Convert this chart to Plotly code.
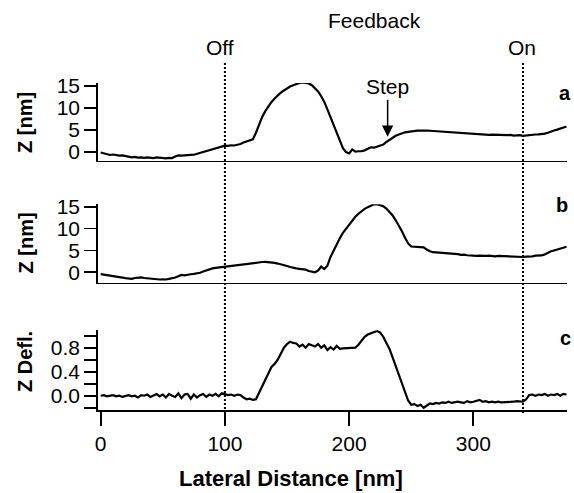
import numpy as np
import plotly.graph_objects as go

# Lateral distance samples [nm]
x_nm = [2.5 * i for i in range(151)]

# Panel a: Z [nm]
z_a = [
    -0.2, -0.35, -0.5, -0.75, -0.65, -0.8, -0.9, -0.85, -1.0, -1.05,
    -1.3, -1.2, -1.35, -1.3, -1.4, -1.3, -1.35, -1.45, -1.3, -1.4,
    -1.35, -1.5, -1.4, -1.45, -1.1, -0.85, -0.9, -0.8, -0.85, -0.75,
    -0.7, -0.5, -0.3, -0.1, 0.15, 0.35, 0.55, 0.75, 0.95, 1.2,
    1.35, 1.3, 1.45, 1.4, 1.5, 1.75, 2.1, 2.35, 2.5, 2.8,
    4.3, 6.2, 7.9, 9.2, 10.4, 11.3, 12.1, 12.8, 13.4, 13.9,
    14.4, 14.8, 15.1, 15.4, 15.6, 15.75, 15.7, 15.5, 15.1, 14.5,
    13.7, 12.6, 11.3, 9.6, 7.8, 5.9, 4.0, 2.3, 0.8, -0.1,
    -0.4, 0.5, 0.0, 0.1, 0.1, 0.3, 0.6, 1.0, 0.9, 1.1,
    1.3, 1.6, 2.2, 2.7, 3.2, 3.6, 3.9, 4.2, 4.4, 4.5,
    4.65, 4.75, 4.8, 4.8, 4.85, 4.8, 4.75, 4.7, 4.7, 4.6,
    4.55, 4.5, 4.45, 4.4, 4.3, 4.35, 4.2, 4.15, 4.05, 4.0,
    4.0, 3.95, 3.9, 3.95, 3.85, 3.8, 3.85, 3.8, 3.75, 3.8,
    3.7, 3.75, 3.8, 3.65, 3.7, 3.75, 3.6, 3.7, 3.85, 3.8,
    3.9, 3.95, 4.0, 4.1, 4.3, 4.6, 4.8, 5.0, 5.2, 5.5,
    5.7,
]

# Panel b: Z [nm]
z_b = [
    -0.4, -0.5, -0.55, -0.7, -0.8, -0.85, -1.0, -1.2, -1.35, -1.45,
    -1.5, -1.3, -1.2, -1.15, -1.3, -1.4, -1.5, -1.6, -1.7, -1.65,
    -1.6, -1.65, -1.5, -1.4, -1.2, -0.9, -0.6, -0.7, -0.5, -0.45,
    -0.35, -0.3, -0.1, 0.2, 0.45, 0.75, 0.9, 1.0, 1.1, 1.15,
    1.25, 1.3, 1.4, 1.5, 1.55, 1.7, 1.8, 1.95, 2.0, 2.1,
    2.2, 2.3, 2.35, 2.4, 2.35, 2.3, 2.15, 2.0, 1.85, 1.7,
    1.45, 1.2, 1.0, 0.9, 0.8, 0.75, 0.6, 0.3, 0.15, 0.0,
    0.4, 1.3, 0.75, 1.5, 3.5, 5.0, 6.5, 7.8, 9.0, 9.9,
    11.0, 11.9, 12.7, 13.4, 14.0, 14.5, 14.9, 15.3, 15.55, 15.6,
    15.4, 15.1, 14.6, 13.9, 13.0, 11.9, 10.7, 9.4, 7.9, 6.6,
    5.9, 5.85, 5.9, 5.85, 5.7, 5.2, 4.8, 4.6, 4.55, 4.5,
    4.4, 4.35, 4.3, 4.35, 4.2, 4.15, 4.0, 4.05, 3.9, 3.8,
    3.85, 3.75, 3.8, 3.7, 3.75, 3.8, 3.7, 3.65, 3.75, 3.7,
    3.65, 3.7, 3.6, 3.55, 3.5, 3.45, 3.5, 3.6, 3.55, 3.65,
    3.8, 3.75, 3.85, 4.1, 4.5, 4.8, 5.0, 5.2, 5.4, 5.6,
    5.85,
]

# Panel c: Z deflection
z_c = [
    0.0, 0.01, -0.01, 0.0, 0.01, -0.01, 0.0, -0.02, 0.0, 0.01,
    -0.01, 0.0, -0.03, 0.01, 0.0, 0.02, -0.02, 0.01, 0.03, -0.01,
    0.02, -0.03, 0.03, 0.0, -0.02, 0.04, -0.04, 0.02, 0.03, -0.05,
    0.02, -0.03, 0.01, 0.03, -0.02, 0.02, 0.0, 0.03, -0.01, 0.04,
    0.02, 0.01, 0.02, 0.0, 0.02, 0.01, -0.03, -0.06, -0.05, -0.07,
    -0.06, 0.05, 0.18, 0.28, 0.38, 0.48, 0.53, 0.6, 0.7, 0.8,
    0.86, 0.9, 0.88, 0.87, 0.82, 0.85, 0.8, 0.86, 0.84, 0.82,
    0.86, 0.8, 0.84, 0.76, 0.81, 0.77, 0.83, 0.78, 0.79, 0.79,
    0.8, 0.79, 0.8, 0.85, 0.92, 0.98, 1.02, 1.04, 1.06, 1.08,
    1.05, 0.98, 0.88, 0.78, 0.64, 0.5, 0.35, 0.2, 0.05, -0.08,
    -0.15, -0.14, -0.17, -0.15, -0.2, -0.17, -0.13, -0.14, -0.12, -0.13,
    -0.11, -0.12, -0.1, -0.12, -0.11, -0.1, -0.11, -0.12, -0.09, -0.11,
    -0.1, -0.09, -0.07, -0.1, -0.09, -0.11, -0.1, -0.11, -0.1, -0.11,
    -0.11, -0.11, -0.1, -0.1, -0.09, -0.1, -0.1, -0.06, 0.01, 0.02,
    0.0, 0.02, 0.01, 0.03, 0.0, 0.02, 0.01, 0.03, 0.0, 0.03,
    0.02,
]

x_ticks = [0, 100, 200, 300]
z_ticks = [0, 5, 10, 15]
defl_ticks = [-0.2, 0.0, 0.2, 0.4, 0.6, 0.8, 1.0]
defl_ticktext = ["", "0.0", "", "0.4", "", "0.8", ""]
feedback_off_x = 100
feedback_on_x = 340
step_x, step_y = 231, 3.4

FONT = "Liberation Sans, Arial, sans-serif"
BLACK = "#000000"
XRANGE = [-2.17, 375.4]

fig = go.Figure()
line_style = dict(color=BLACK, width=2.2)
fig.add_trace(go.Scatter(x=x_nm, y=z_a, mode="lines", line=line_style, xaxis="x", yaxis="y", showlegend=False))
fig.add_trace(go.Scatter(x=x_nm, y=z_b, mode="lines", line=line_style, xaxis="x2", yaxis="y2", showlegend=False))
fig.add_trace(go.Scatter(x=x_nm, y=z_c, mode="lines", line=line_style, xaxis="x3", yaxis="y3", showlegend=False))

axis_common = dict(showline=True, linecolor=BLACK, linewidth=1.8, showgrid=False, zeroline=False,
                   ticks="outside", tickcolor=BLACK, tickwidth=1.8,
                   tickfont=dict(family=FONT, size=21, color=BLACK))

xa_hidden = dict(axis_common, range=XRANGE, ticks="", showticklabels=False)

fig.update_layout(
    width=574, height=493,
    margin=dict(l=98, r=7, t=83, b=83),
    paper_bgcolor="white", plot_bgcolor="white",
    hovermode=False,
    xaxis=dict(xa_hidden, anchor="y", domain=[0, 1]),
    xaxis2=dict(xa_hidden, anchor="y2", domain=[0, 1]),
    xaxis3=dict(axis_common, anchor="y3", domain=[0, 1], range=XRANGE,
                tickvals=x_ticks, ticklen=14),
    yaxis=dict(axis_common, anchor="x", domain=[0.7624, 1.0], range=[-2.05, 15.6],
               tickvals=z_ticks, ticklen=12),
    yaxis2=dict(axis_common, anchor="x2", domain=[0.3893, 0.6291], range=[-2.38, 15.56],
                tickvals=z_ticks, ticklen=12),
    yaxis3=dict(axis_common, anchor="x3", domain=[0.0, 0.2437], range=[-0.238, 1.09],
                tickvals=defl_ticks, ticktext=defl_ticktext, ticklen=12),
)

for xv in [feedback_off_x, feedback_on_x]:
    fig.add_shape(type="line", xref="x", yref="paper", x0=xv, x1=xv, y0=-0.0092, y1=1.0612,
                  line=dict(color=BLACK, width=2, dash="2px,2px"))

def txt(text, x, y, size=21, bold=False, xref="paper", yref="paper", angle=0):
    fig.add_annotation(text=(f"<b>{text}</b>" if bold else text), x=x, y=y, xref=xref, yref=yref,
                       showarrow=False, xanchor="center", yanchor="middle", textangle=angle,
                       font=dict(family=FONT, size=size, color=BLACK))

txt("Feedback", (374 - 98) / 469, (410 - 20) / 327)
txt("Off", (220 - 98) / 469, (410 - 48) / 327)
txt("On", (522 - 98) / 469, (410 - 48) / 327)
txt("a", (565 - 98) / 469, (410 - 93) / 327, size=20, bold=True)
txt("b", (562 - 98) / 469, (410 - 205) / 327, size=20, bold=True)
txt("c", (565 - 98) / 469, (410 - 338) / 327, size=20, bold=True)
txt("Z [nm]", (25 - 98) / 469, (410 - 123) / 327, size=20, bold=True, angle=-90)
txt("Z [nm]", (25 - 98) / 469, (410 - 243.5) / 327, size=20, bold=True, angle=-90)
txt("Z Defl.", (25 - 98) / 469, (410 - 362) / 327, size=20, bold=True, angle=-90)
txt("Lateral Distance [nm]", (291 - 98) / 469, (410 - 478) / 327, size=22, bold=True)

fig.add_annotation(text="Step", x=step_x, y=step_y, xref="x", yref="y", ax=0, ay=-50,
                   showarrow=True, arrowhead=2, arrowsize=1.5, arrowwidth=1.5, arrowcolor=BLACK,
                   font=dict(family=FONT, size=21, color=BLACK))

fig.write_html("out.html", config={"displayModeBar": False, "staticPlot": True},
               post_script="document.body.style.margin='0';document.body.style.overflow='hidden';")
